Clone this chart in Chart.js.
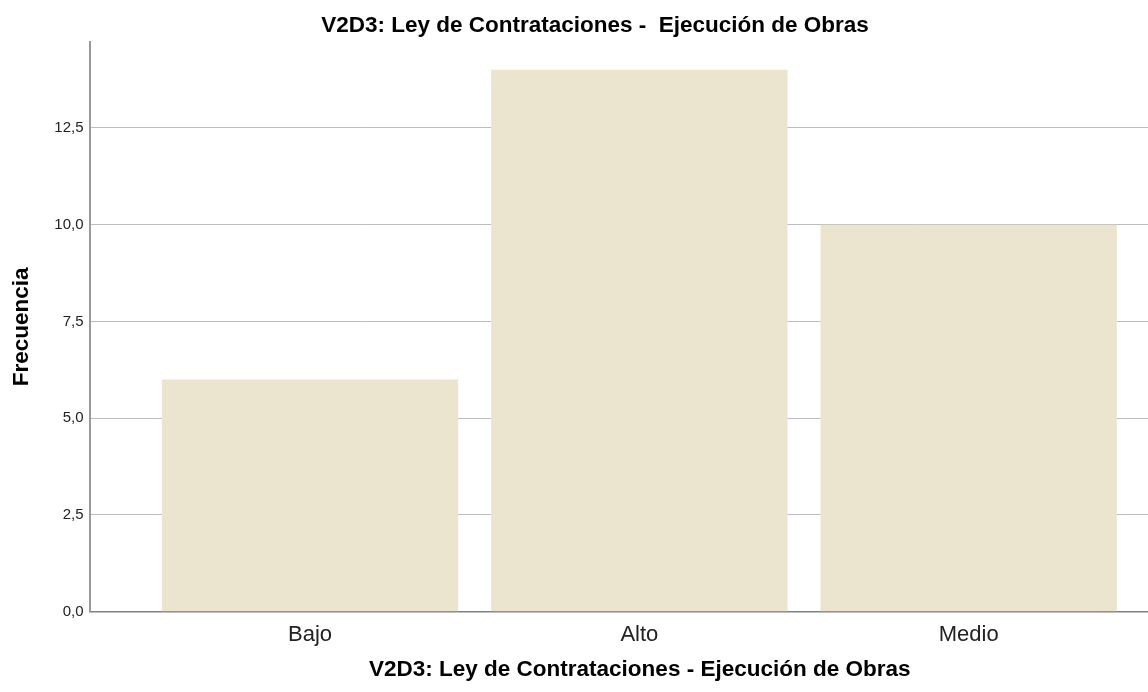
<!DOCTYPE html>
<html>
<head>
<meta charset="utf-8">
<script src="https://cdn.jsdelivr.net/npm/chart.js@4/dist/chart.umd.min.js"></script>
<style>
    html, body { margin: 0; padding: 0; background: #fff; overflow: hidden; }
    canvas { display: block; }
</style>
</head>
<body>
<canvas id="freqChart" width="1190" height="692"></canvas>
<script>
// data
const categories = ['Bajo', 'Alto', 'Medio'];
const frequencies = [6, 14, 10];
const yTicks = [0, 2.5, 5, 7.5, 10, 12.5];

const chartTitle = 'V2D3: Ley de Contrataciones -  Ejecución de Obras';
const xTitle = 'V2D3: Ley de Contrataciones - Ejecución de Obras';
const yTitle = 'Frecuencia';

document.addEventListener("DOMContentLoaded", () => {
    const canvas = document.getElementById('freqChart');
    if (!canvas) return;

    new Chart(canvas.getContext('2d'), {
        type: 'bar',
        data: {
            datasets: [{
                label: yTitle,
                data: categories.map((c, i) => ({ x: i + 1, y: frequencies[i] })),
                backgroundColor: '#ebe4cf', // SPSS beige
                borderWidth: 0,
                barPercentage: 0.9,
                categoryPercentage: 1
            }]
        },
        options: {
            responsive: false,
            animation: false,
            layout: { padding: 0 },
            plugins: {
                legend: { display: false },
                tooltip: { enabled: false },
                title: {
                    display: true,
                    text: chartTitle,
                    color: '#000',
                    font: { family: 'Liberation Sans, Arial', size: 22.5, weight: 'bold' },
                    padding: { top: 12, bottom: 3 }
                }
            },
            scales: {
                x: {
                    type: 'linear',
                    offset: false,
                    min: 0.3304,
                    max: 3.672,
                    afterBuildTicks: (scale) => {
                        scale.ticks = categories.map((c, i) => ({ value: i + 1 }));
                    },
                    afterFit: (scale) => { scale.height = 80.3; },
                    ticks: {
                        autoSkip: false,
                        maxRotation: 0,
                        padding: 10,
                        color: '#222',
                        font: { family: 'Liberation Sans, Arial', size: 22 },
                        callback: (v) => categories[v - 1]
                    },
                    grid: { display: false, drawTicks: false },
                    border: { display: true, color: '#808080', width: 1.5 },
                    title: {
                        display: true,
                        text: xTitle,
                        color: '#000',
                        font: { family: 'Liberation Sans, Arial', size: 22.5, weight: 'bold' },
                        padding: { top: 0, bottom: 9 }
                    }
                },
                y: {
                    min: 0,
                    max: 14.72,
                    afterBuildTicks: (scale) => {
                        scale.ticks = yTicks.map(v => ({ value: v }));
                    },
                    afterFit: (scale) => { scale.width = 89.5; },
                    ticks: {
                        includeBounds: false,
                        padding: 6,
                        color: '#222',
                        font: { family: 'Liberation Sans, Arial', size: 15 },
                        callback: (v) => v.toFixed(1).replace('.', ',')
                    },
                    grid: { color: '#bdbdbd', lineWidth: 1, drawTicks: false },
                    border: { display: true, color: '#9a9a9a', width: 2 },
                    title: {
                        display: true,
                        text: yTitle,
                        color: '#000',
                        font: { family: 'Liberation Sans, Arial', size: 22.5, weight: 'bold' },
                        padding: { top: 8.5, bottom: 0 }
                    }
                }
            }
        }
    });
});
</script>
</body>
</html>
